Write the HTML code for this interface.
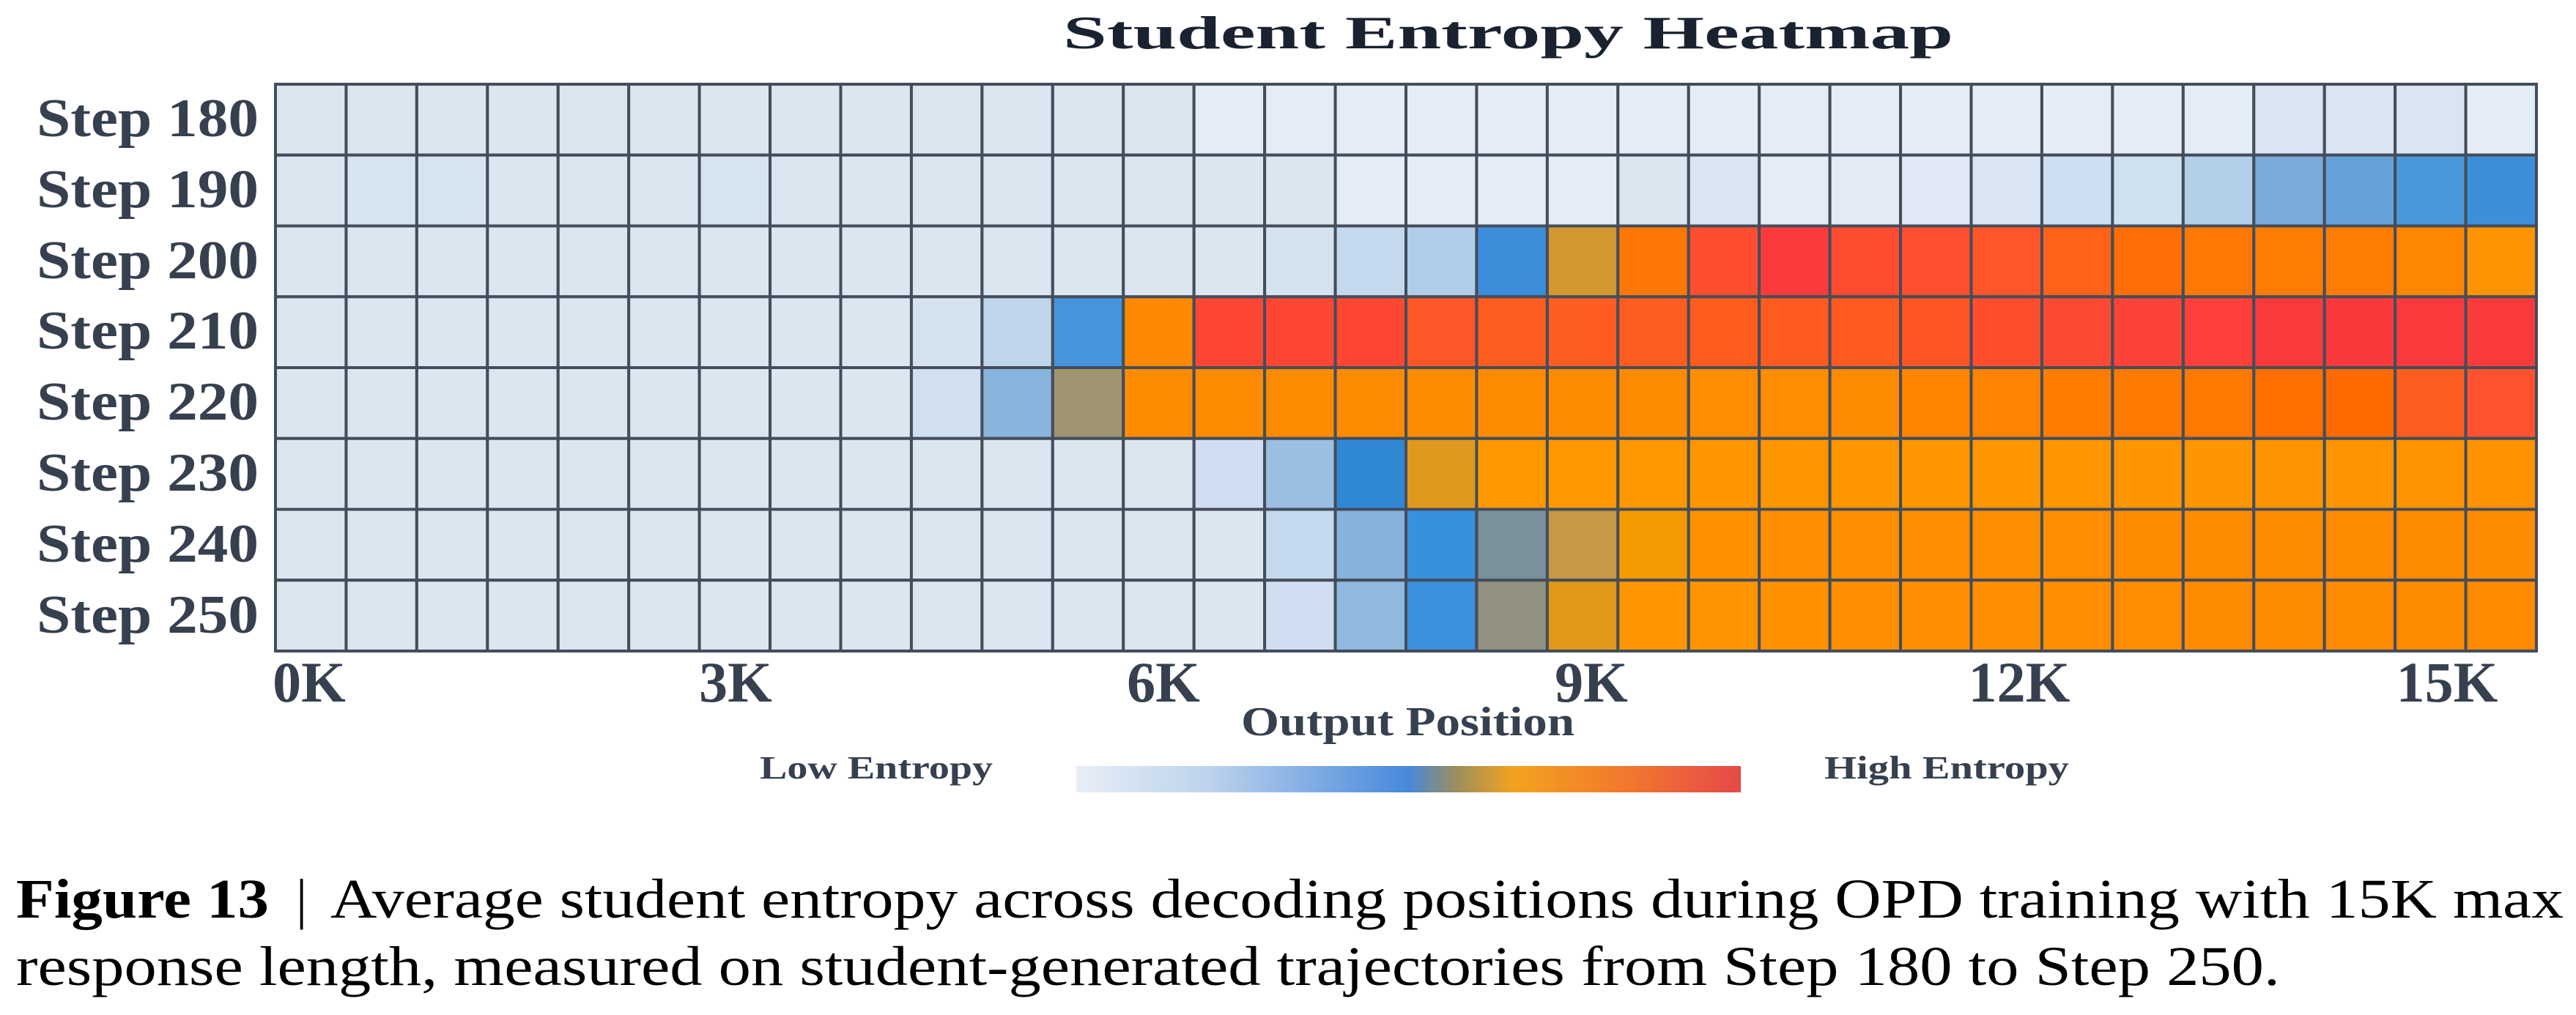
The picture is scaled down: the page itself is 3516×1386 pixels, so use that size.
<!DOCTYPE html>
<html><head><meta charset="utf-8">
<style>
html,body{margin:0;padding:0;background:#fff;}
svg{display:block;}
</style></head>
<body>
<svg id="s" width="3516" height="1386" viewBox="0 0 3516 1386" xmlns="http://www.w3.org/2000/svg">
<rect width="3516" height="1386" fill="#fff"/>
<g id="cells"></g>
<g font-family="Liberation Serif, DejaVu Serif, serif" font-weight="bold" fill="#36404f">
<text x="1451" y="66" font-size="64" textLength="1215" lengthAdjust="spacingAndGlyphs" fill="#1a2230">Student Entropy Heatmap</text>
<text x="50" y="186" font-size="74" textLength="303" lengthAdjust="spacingAndGlyphs">Step 180</text>
<text x="50" y="283" font-size="74" textLength="303" lengthAdjust="spacingAndGlyphs">Step 190</text>
<text x="50" y="380" font-size="74" textLength="303" lengthAdjust="spacingAndGlyphs">Step 200</text>
<text x="50" y="476" font-size="74" textLength="303" lengthAdjust="spacingAndGlyphs">Step 210</text>
<text x="50" y="573" font-size="74" textLength="303" lengthAdjust="spacingAndGlyphs">Step 220</text>
<text x="50" y="670" font-size="74" textLength="303" lengthAdjust="spacingAndGlyphs">Step 230</text>
<text x="50" y="767" font-size="74" textLength="303" lengthAdjust="spacingAndGlyphs">Step 240</text>
<text x="50" y="864" font-size="74" textLength="303" lengthAdjust="spacingAndGlyphs">Step 250</text>
<g font-size="78" text-anchor="middle">
<text x="422" y="958">0K</text>
<text x="1004" y="958">3K</text>
<text x="1588" y="958">6K</text>
<text x="2172" y="958">9K</text>
<text x="2756" y="958">12K</text>
<text x="3340" y="958">15K</text>
</g>
<text x="1694" y="1004" font-size="56" textLength="455" lengthAdjust="spacingAndGlyphs">Output Position</text>
<text x="1037" y="1063" font-size="44" textLength="318" lengthAdjust="spacingAndGlyphs">Low Entropy</text>
<text x="2490" y="1063" font-size="44" textLength="334" lengthAdjust="spacingAndGlyphs">High Entropy</text>
</g>
<defs>
<linearGradient id="cb" x1="0" x2="1" y1="0" y2="0">
<stop offset="0" stop-color="#e8eef7"/>
<stop offset="0.2" stop-color="#bcd3ec"/>
<stop offset="0.5" stop-color="#4689db"/>
<stop offset="0.57" stop-color="#9a8e60"/>
<stop offset="0.66" stop-color="#f4a21e"/>
<stop offset="0.82" stop-color="#f27a2c"/>
<stop offset="1" stop-color="#e64848"/>
</linearGradient>
</defs>
<rect x="1469" y="1046" width="907" height="36" fill="url(#cb)"/>
<g font-family="Liberation Serif, DejaVu Serif, serif" fill="#000" font-size="76">
<text x="22" y="1253" font-weight="bold" textLength="345" lengthAdjust="spacingAndGlyphs">Figure 13</text>
<text x="404" y="1253">|</text>
<text x="451" y="1253" textLength="3048" lengthAdjust="spacingAndGlyphs">Average student entropy across decoding positions during OPD training with 15K max</text>
<text x="22" y="1345" textLength="3090" lengthAdjust="spacingAndGlyphs">response length, measured on student-generated trajectories from Step 180 to Step 250.</text>
</g>
</svg>
<script>
(function(){
var L='#dce6f1',V='#e4ecf6',B='#d6e3f1';
function fill(n,c){var a=[];for(var i=0;i<n;i++)a.push(c);return a;}
var rows=[];
rows.push([L,L,L,L,L,L,L,L,L,L,L,L,L,V,V,V,V,V,V,V,V,V,V,V,V,V,V,V,'#dae5f1','#dae5f1','#dae5f1',V]);
rows.push([L,B,B,L,L,L,B,L,L,L,L,L,L,L,L,V,V,V,V,L,'#dae5f1',V,'#e2eaf5','#dfe8f4','#d9e5f2','#cddff0','#cfe0f0','#b4cfea','#79aad8','#66a2d9','#4a98da','#3d8fd9']);
rows.push(fill(14,L).concat(['#d5e2f0','#c4d8ee','#b1cdea','#3c8dda','#d39631','#fe7605','#ff4d30','#fb3b3b','#ff4b30','#ff4e30','#ff5528','#ff6218','#fe6e04','#ff7806','#ff7c04','#ff7c02','#ff8600','#ff9400']));
rows.push(fill(9,L).concat(['#d5e2f0','#bfd5ec','#4694dc','#ff8800','#fd4734','#fd4734','#fd4733','#ff5628','#ff5c20','#ff5c20','#ff5c20','#ff5c1e','#ff5a20','#ff5a20','#ff5525','#ff4d2e','#ff4a33','#fc4338','#fd4039','#fb3a3c','#fa393d','#fa3a3d','#fa3b3c']));
rows.push(fill(9,L).concat(['#d0e0f1','#88b4de','#a09470','#ff8c00','#ff8c00','#ff8c00','#ff8c00','#ff8c00','#ff8c00','#ff8c00','#ff8c00','#ff8e00','#ff8d00','#ff8b00','#ff8400','#ff8300','#ff7c00','#ff7a00','#ff7900','#ff6f00','#ff6a00','#ff5c20','#ff5230']));
rows.push(fill(13,L).concat(['#cfdff1','#9bbfe3','#3088d4','#df9a1d','#ff9800','#ff9800','#ff9800','#ff9600','#ff9600','#ff9600','#ff9600','#ff9600','#ff9600','#ff9500','#ff9500','#ff9400','#ff9400','#ff9300','#ff9200']));
rows.push(fill(14,L).concat(['#c5d9ee','#87b2dc','#3890df','#7a909a','#c79846','#f39a00','#ff9100','#ff8e00','#ff8e00','#ff8e00','#ff8d00','#ff8d00','#ff8c00','#ff8c00','#ff8c00','#ff8c00','#ff8b00','#ff8b00']));
rows.push(fill(14,L).concat(['#cfdff1','#91b9e0','#3c90dd','#929080','#df9818','#ff9600','#ff9500','#ff9000','#ff8f00','#ff8e00','#ff8e00','#ff8d00','#ff8d00','#ff8c00','#ff8c00','#ff8b00','#ff8b00','#ff8a00']));
var x0=376,x1=3462,y0=115,y1=889,nc=32,nr=8,cw=(x1-x0)/nc,rh=(y1-y0)/nr;
var g=document.getElementById('cells'),h='';
for(var r=0;r<nr;r++)for(var c=0;c<nc;c++){
h+='<rect x="'+(x0+c*cw)+'" y="'+(y0+r*rh)+'" width="'+cw+'" height="'+rh+'" fill="'+rows[r][c]+'" stroke="#434d5b" stroke-width="4"/>';
}
g.innerHTML=h;
})();
</script>
</body></html>
